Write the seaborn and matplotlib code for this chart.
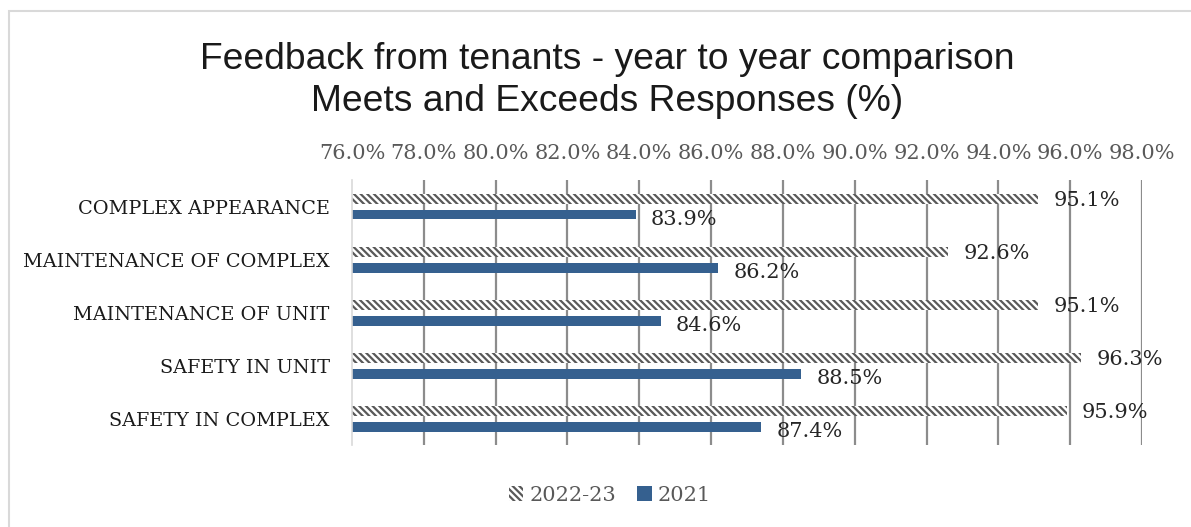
import matplotlib
matplotlib.use("Agg")
import matplotlib.pyplot as plt
from matplotlib.patches import Rectangle, Patch
import seaborn as sns
import pandas as pd

categories = ["COMPLEX APPEARANCE", "MAINTENANCE OF COMPLEX", "MAINTENANCE OF UNIT",
              "SAFETY IN UNIT", "SAFETY IN COMPLEX"]
series_names = ["2022-23", "2021"]
values_2022_23 = [95.1, 92.6, 95.1, 96.3, 95.9]
values_2021 = [83.9, 86.2, 84.6, 88.5, 87.4]
x_ticks = [76, 78, 80, 82, 84, 86, 88, 90, 92, 94, 96, 98]

df = pd.DataFrame({
    "category": categories * 2,
    "series": [series_names[0]] * len(categories) + [series_names[1]] * len(categories),
    "value": values_2022_23 + values_2021,
})

sns.set_theme(style="white")
plt.rcParams["hatch.linewidth"] = 1.6
plt.rcParams["hatch.color"] = "#595959"

serif = ["DejaVu Serif", "Liberation Serif"]
sans = ["Liberation Sans", "DejaVu Sans"]
blue = "#35608F"
grey_txt = "#595959"

fig = plt.figure(figsize=(11.91, 5.27), dpi=100)
ax = fig.add_axes([0.2955, 0.155, 0.9589 - 0.2955, 0.6584 - 0.155])

sns.barplot(data=df, y="category", x="value", hue="series", order=categories,
            hue_order=series_names, orient="h", width=0.6, gap=0.38,
            palette=["white", blue], ax=ax, legend=False)

# style bars: first hue level hatched, second solid
n = len(categories)
for i, bar in enumerate(ax.patches[: 2 * n]):
    if i < n:
        bar.set_facecolor("white")
        bar.set_hatch("\\\\\\\\\\")
        bar.set_edgecolor("#595959")
        bar.set_linewidth(0)
    else:
        bar.set_facecolor(blue)
        bar.set_edgecolor("none")

# value labels
for i, bar in enumerate(ax.patches[: 2 * n]):
    w = bar.get_width()
    yc = bar.get_y() + bar.get_height() / 2
    dy = -1.5 if i < n else -3.5
    ax.annotate(f"{w:.1f}%", xy=(w, yc), xytext=(11, dy), textcoords="offset points",
                ha="left", va="center", fontsize=15, family=serif, color="#262626")

ax.set_xlim(76, 98)
ax.set_ylim(4.5, -0.5)
ax.set_xticks(x_ticks)
ax.set_xticklabels([f"{t:.1f}%" for t in x_ticks], family=serif, fontsize=15, color=grey_txt)
ax.xaxis.tick_top()
ax.tick_params(axis="x", length=0, pad=12)
ax.tick_params(axis="y", length=0, pad=16)
for lbl in ax.get_yticklabels():
    lbl.set_family(serif)
    lbl.set_fontsize(13.9)
    lbl.set_color("#1a1a1a")
ax.set_xlabel("")
ax.set_ylabel("")

ax.grid(False)
for t in x_ticks[1:]:
    ax.axvline(t, color="#8c8c8c", lw=1.6, zorder=0)
for s in ["top", "right", "bottom"]:
    ax.spines[s].set_visible(False)
ax.spines["left"].set_color("#d9d9d9")
ax.spines["left"].set_linewidth(1.2)

fig.text(0.51, 0.888, "Feedback from tenants - year to year comparison", ha="center", va="center",
         fontsize=26.8, family=sans, color="#1a1a1a")
fig.text(0.51, 0.807, "Meets and Exceeds Responses (%)", ha="center", va="center",
         fontsize=26.8, family=sans, color="#1a1a1a")

handles = [Patch(facecolor="white", hatch="\\\\\\\\\\", edgecolor="#595959", linewidth=0),
           Patch(facecolor=blue, edgecolor="none")]
leg = fig.legend(handles, series_names, loc="center", bbox_to_anchor=(0.512, 0.06), ncol=2,
                 frameon=False, prop={"family": serif, "size": 15}, handlelength=0.7,
                 handleheight=0.7, handletextpad=0.3, columnspacing=1.0)
for t in leg.get_texts():
    t.set_color(grey_txt)

# chart-area border
fig.patches.append(Rectangle((9 / 1191, -0.1), 1.2, (527 - 11) / 527 + 0.1, transform=fig.transFigure,
                             fill=False, edgecolor="#d9d9d9", lw=1.5, zorder=-1))

fig.savefig("out.png", dpi=100)
